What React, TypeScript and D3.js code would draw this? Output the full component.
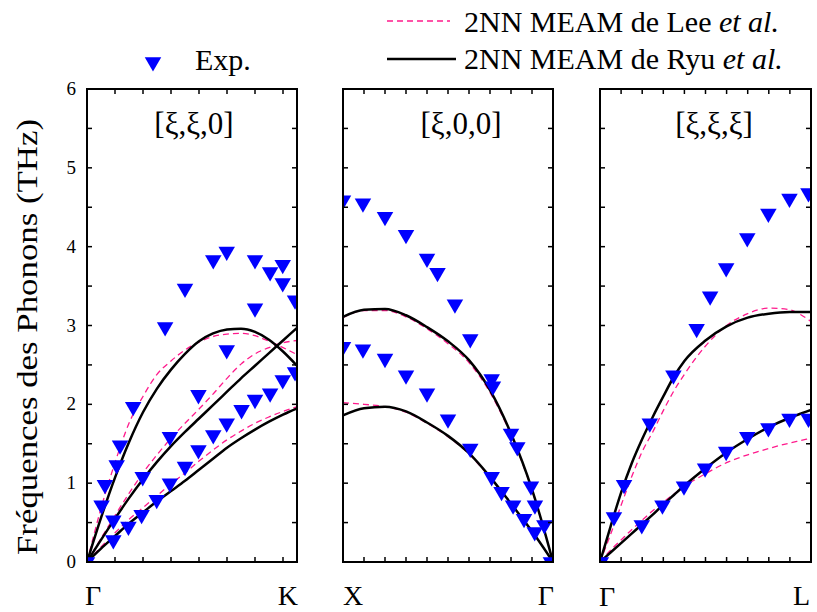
import React from "react";
import * as d3 from "d3";

// ---------- Data ----------
// Panel 1: Γ -> K  [ξ,ξ,0]
const gkXi = [0, 0.05, 0.1, 0.15, 0.2, 0.25, 0.3, 0.35, 0.4, 0.45, 0.5, 0.55, 0.6, 0.65, 0.7, 0.75];
const gkRyuUpper = [0, 0.56, 1.07, 1.52, 1.9, 2.2, 2.44, 2.64, 2.8, 2.9, 2.95, 2.96, 2.92, 2.82, 2.67, 2.49];
const gkRyuMiddle = [0, 0.28, 0.55, 0.81, 1.05, 1.27, 1.47, 1.65, 1.82, 1.99, 2.16, 2.33, 2.49, 2.65, 2.81, 2.97];
const gkRyuLower = [0, 0.17, 0.33, 0.49, 0.63, 0.77, 0.9, 1.03, 1.17, 1.31, 1.45, 1.57, 1.68, 1.78, 1.87, 1.95];
const gkLeeUpper = [0, 0.68, 1.26, 1.76, 2.1, 2.38, 2.55, 2.69, 2.79, 2.86, 2.89, 2.9, 2.87, 2.8, 2.72, 2.63];
const gkLeeMiddle = [0, 0.3, 0.59, 0.87, 1.13, 1.36, 1.57, 1.76, 1.94, 2.13, 2.33, 2.51, 2.64, 2.72, 2.78, 2.81];
const gkLeeLower = [0, 0.19, 0.37, 0.54, 0.69, 0.84, 0.99, 1.13, 1.28, 1.42, 1.55, 1.66, 1.76, 1.84, 1.91, 1.97];
const gkExpXi = [0, 0.052, 0.064, 0.094, 0.094, 0.106, 0.118, 0.148, 0.165, 0.195, 0.199, 0.249, 0.279, 0.296, 0.296, 0.35, 0.35, 0.398, 0.398, 0.451, 0.451, 0.499, 0.499, 0.499, 0.552, 0.6, 0.6, 0.6, 0.654, 0.654, 0.699, 0.699, 0.699, 0.743, 0.743];
const gkExpFreq = [0, 0.72, 0.98, 0.28, 0.53, 1.23, 1.48, 0.45, 1.97, 0.6, 1.08, 0.79, 2.98, 1.59, 1.0, 3.47, 1.21, 2.12, 1.42, 3.83, 1.61, 3.94, 2.69, 1.76, 1.93, 3.83, 3.22, 2.06, 3.68, 2.14, 3.77, 3.54, 2.31, 3.32, 2.41];

// Panel 2: X -> Γ  [ξ,0,0]
const xgXi = [0, 0.05, 0.1, 0.2, 0.3, 0.4, 0.5, 0.6, 0.7, 0.8, 0.9, 1.0];
const xgRyuUpper = [0, 0.48, 0.92, 1.63, 2.18, 2.56, 2.8, 2.98, 3.13, 3.21, 3.2, 3.11];
const xgRyuLower = [0, 0.2, 0.39, 0.74, 1.08, 1.38, 1.6, 1.77, 1.91, 1.97, 1.95, 1.86];
const xgLeeUpper = [0, 0.48, 0.91, 1.61, 2.15, 2.53, 2.77, 2.96, 3.11, 3.19, 3.19, 3.1];
const xgLeeLower = [0, 0.2, 0.39, 0.74, 1.07, 1.37, 1.59, 1.76, 1.9, 1.97, 2.0, 2.02];
const xgExpXi = [1.0, 0.905, 0.8, 0.7, 0.6, 0.55, 0.467, 0.394, 0.292, 0.286, 0.2, 0.17, 0.105, 0.086, 0.041, 0.01, 1.0, 0.905, 0.8, 0.7, 0.6, 0.5, 0.394, 0.292, 0.245, 0.19, 0.138, 0.087];
const xgExpFreq = [4.59, 4.55, 4.38, 4.15, 3.85, 3.67, 3.27, 2.83, 2.32, 2.23, 1.63, 1.46, 0.96, 0.72, 0.47, 0, 2.73, 2.7, 2.58, 2.37, 2.14, 1.81, 1.44, 1.08, 0.89, 0.72, 0.55, 0.38];

// Panel 3: Γ -> L  [ξ,ξ,ξ]
const glXi = [0, 0.025, 0.05, 0.075, 0.1, 0.125, 0.15, 0.175, 0.2, 0.25, 0.3, 0.35, 0.4, 0.45, 0.475, 0.5];
const glRyuUpper = [0, 0.45, 0.88, 1.25, 1.56, 1.84, 2.1, 2.35, 2.55, 2.81, 2.99, 3.1, 3.15, 3.17, 3.17, 3.17];
const glRyuLower = [0, 0.12, 0.24, 0.36, 0.48, 0.6, 0.73, 0.85, 0.97, 1.19, 1.39, 1.56, 1.71, 1.83, 1.88, 1.93];
const glLeeUpper = [0, 0.35, 0.72, 1.08, 1.4, 1.65, 1.92, 2.17, 2.38, 2.74, 3.0, 3.15, 3.22, 3.2, 3.14, 3.05];
const glLeeLower = [0, 0.15, 0.28, 0.41, 0.53, 0.65, 0.76, 0.86, 0.96, 1.12, 1.26, 1.36, 1.44, 1.51, 1.54, 1.57];
const glExpXi = [0.002, 0.033, 0.057, 0.099, 0.118, 0.148, 0.174, 0.199, 0.229, 0.249, 0.261, 0.299, 0.299, 0.349, 0.349, 0.399, 0.399, 0.449, 0.449, 0.494, 0.494];
const glExpFreq = [0, 0.57, 0.98, 0.47, 1.76, 0.72, 2.37, 0.96, 2.96, 1.19, 3.37, 1.4, 3.73, 1.59, 4.11, 1.7, 4.42, 1.82, 4.61, 1.82, 4.68];

const yTickLabels = [0, 1, 2, 3, 4, 5, 6];
const panelTitles = ["[ξ,ξ,0]", "[ξ,0,0]", "[ξ,ξ,ξ]"];
const pointLabels = [["Γ", "K"], ["X", "Γ"], ["Γ", "L"]];
const legendLabels = ["Exp.", "2NN MEAM de Lee ", "2NN MEAM de Ryu "];

// ---------- Layout ----------
const W = 817, H = 612;
const TOP = 89, BOTTOM = 562;
const FONT = "'Liberation Serif', 'Times New Roman', serif";
const BLUE = "#0000ff";
const PINK = "#ff1a8c";

const y = d3.scaleLinear().domain([0, 6]).range([BOTTOM, TOP]);

type Panel = {
  x0: number; x1: number; domain: [number, number]; tickStep: number;
  xi: number[]; ryu: number[][]; lee: number[][]; expXi: number[]; expFreq: number[];
  titleX: number; labelY: [number, number]; labelDx: [number, number];
};

const panels: Panel[] = [
  { x0: 87, x1: 297, domain: [0, 0.75], tickStep: 0.1, xi: gkXi, ryu: [gkRyuUpper, gkRyuMiddle, gkRyuLower], lee: [gkLeeUpper, gkLeeMiddle, gkLeeLower], expXi: gkExpXi, expFreq: gkExpFreq, titleX: 194, labelY: [605, 605], labelDx: [-2, 1] },
  { x0: 343, x1: 553, domain: [1, 0], tickStep: 0.1, xi: xgXi, ryu: [xgRyuUpper, xgRyuLower], lee: [xgLeeUpper, xgLeeLower], expXi: xgExpXi, expFreq: xgExpFreq, titleX: 461, labelY: [605, 605], labelDx: [0, 1] },
  { x0: 600, x1: 811, domain: [0, 0.5], tickStep: 0.05, xi: glXi, ryu: [glRyuUpper, glRyuLower], lee: [glLeeUpper, glLeeLower], expXi: glExpXi, expFreq: glExpFreq, titleX: 714, labelY: [606, 605], labelDx: [-1, -1] },
];

const triPath = d3.symbol(d3.symbolTriangle, 118)() as string;

function PanelView({ p, i }: { p: Panel; i: number }) {
  const x = d3.scaleLinear().domain(p.domain).range([p.x0, p.x1]);
  const mk = (vals: number[]) => {
    const pts = p.xi.map((xi, k) => [x(xi), y(vals[k])] as [number, number]).sort((a, b) => a[0] - b[0]);
    return d3.line().curve(d3.curveMonotoneX)(pts) as string;
  };
  const lo = Math.min(...p.domain), hi = Math.max(...p.domain);
  const xTicks = d3.range(lo + p.tickStep, hi - 1e-9, p.tickStep);
  const yTicks = d3.range(0.5, 6, 0.5);
  const clipId = `clip${i}`;
  const TL = 5;
  return (
    <g>
      <defs>
        <clipPath id={clipId}>
          <rect x={p.x0} y={TOP} width={p.x1 - p.x0} height={BOTTOM - TOP} />
        </clipPath>
      </defs>
      <g clipPath={`url(#${clipId})`}>
        {p.lee.map((v, k) => (
          <path key={`l${k}`} d={mk(v)} fill="none" stroke={PINK} strokeWidth={1.3} strokeDasharray="6,4" />
        ))}
        {p.ryu.map((v, k) => (
          <path key={`r${k}`} d={mk(v)} fill="none" stroke="#000" strokeWidth={2.5} />
        ))}
        {p.expXi.map((xi, k) => (
          <path key={`e${k}`} d={triPath} fill={BLUE}
            transform={`translate(${x(xi)},${y(p.expFreq[k])}) rotate(180)`} />
        ))}
      </g>
      {xTicks.map((t, k) => (
        <g key={`xt${k}`} stroke="#000" strokeWidth={1.5}>
          <line x1={x(t)} x2={x(t)} y1={BOTTOM} y2={BOTTOM - TL} />
          <line x1={x(t)} x2={x(t)} y1={TOP} y2={TOP + TL} />
        </g>
      ))}
      {yTicks.map((t, k) => (
        <g key={`yt${k}`} stroke="#000" strokeWidth={1.5}>
          <line x1={p.x0} x2={p.x0 + TL} y1={y(t)} y2={y(t)} />
          <line x1={p.x1} x2={p.x1 - TL} y1={y(t)} y2={y(t)} />
        </g>
      ))}
      <rect x={p.x0} y={TOP} width={p.x1 - p.x0} height={BOTTOM - TOP} fill="none" stroke="#000" strokeWidth={2} />
      <text x={p.titleX} y={134} textAnchor="middle" fontSize={31} fontFamily={FONT}>{panelTitles[i]}</text>
      <text x={p.x0 + p.labelDx[0]} y={p.labelY[0]} textAnchor="start" fontSize={28} fontFamily={FONT}>{pointLabels[i][0]}</text>
      <text x={p.x1 + p.labelDx[1]} y={p.labelY[1]} textAnchor="end" fontSize={28} fontFamily={FONT}>{pointLabels[i][1]}</text>
    </g>
  );
}

export default function App() {
  return (
    <svg width={W} height={H} style={{ position: "absolute", left: 0, top: 0, background: "#fff" }}>
      <rect x={0} y={0} width={W} height={H} fill="#fff" />
      {panels.map((p, i) => <PanelView key={i} p={p} i={i} />)}
      {yTickLabels.map((t) => (
        <text key={t} x={76} y={y(t) + 6} textAnchor="end" fontSize={19} fontFamily={FONT}>{t}</text>
      ))}
      <text transform={`translate(37,337) rotate(-90)`} textAnchor="middle" fontSize={29} fontFamily={FONT}
        textLength={436} lengthAdjust="spacingAndGlyphs">Fréquences des Phonons (THz)</text>
      {/* Legend */}
      <path d={triPath} fill={BLUE} transform="translate(153,62) rotate(180)" />
      <text x={195} y={70} fontSize={30} fontFamily={FONT}>{legendLabels[0]}</text>
      <line x1={387} x2={450} y1={21} y2={21} stroke={PINK} strokeWidth={1.3} strokeDasharray="6,4" />
      <text x={464} y={32} fontSize={30} fontFamily={FONT}>{legendLabels[1]}<tspan fontStyle="italic">et al.</tspan></text>
      <line x1={387} x2={456} y1={59} y2={59} stroke="#000" strokeWidth={2.5} />
      <text x={464} y={69} fontSize={30} fontFamily={FONT}>{legendLabels[2]}<tspan fontStyle="italic">et al.</tspan></text>
    </svg>
  );
}
